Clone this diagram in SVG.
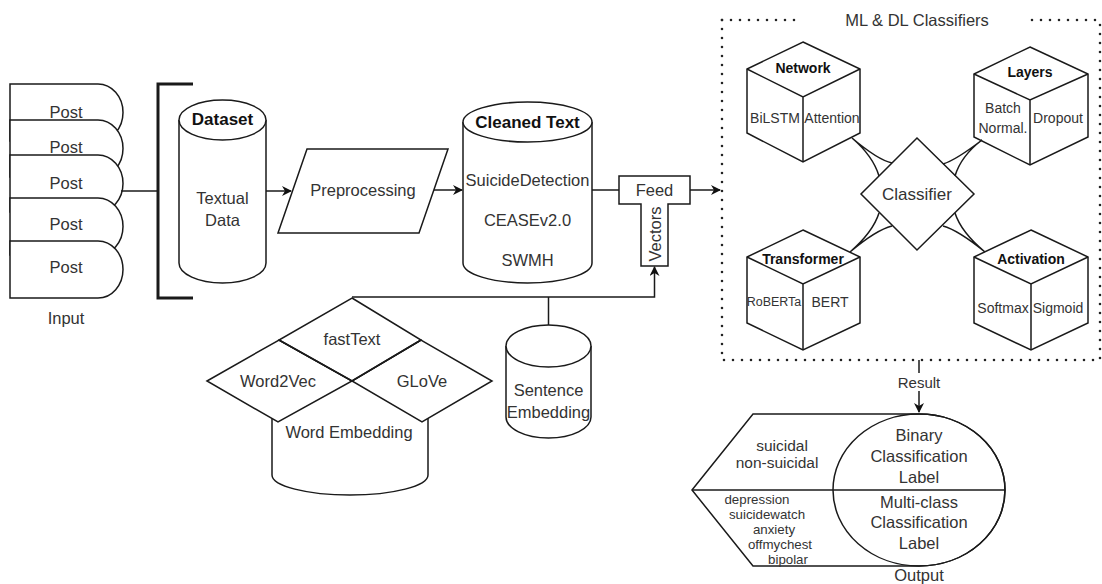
<svg xmlns="http://www.w3.org/2000/svg" width="1102" height="584" viewBox="0 0 1102 584">
<defs>
<style>
.s{fill:#fff;stroke:#1a1a1a;stroke-width:1.5}
.n{fill:none;stroke:#1a1a1a;stroke-width:1.5}
.t{font-family:"Liberation Sans",Arial,sans-serif;font-size:16.5px;fill:#333;text-anchor:middle;dominant-baseline:central}
.b{font-family:"Liberation Sans",Arial,sans-serif;font-size:17px;font-weight:bold;fill:#111;text-anchor:middle;dominant-baseline:central}
.cb{font-family:"Liberation Sans",Arial,sans-serif;font-size:14px;font-weight:bold;fill:#111;text-anchor:middle;dominant-baseline:central}
.c{font-family:"Liberation Sans",Arial,sans-serif;font-size:14px;fill:#333;text-anchor:middle;dominant-baseline:central}
.sm{font-family:"Liberation Sans",Arial,sans-serif;font-size:15.5px;fill:#333;text-anchor:middle;dominant-baseline:central}
.ls{font-family:"Liberation Sans",Arial,sans-serif;font-size:13.3px;fill:#333;text-anchor:middle;dominant-baseline:central}
.dot{fill:none;stroke:#222;stroke-width:2.6;stroke-linecap:round;stroke-dasharray:0 9}
</style>
<marker id="arr" viewBox="0 0 10 10" refX="9" refY="5" markerWidth="10" markerHeight="10" markerUnits="userSpaceOnUse" orient="auto">
<path d="M0,0 L10,5 L0,10 L3,5 Z" fill="#111"/>
</marker>
</defs>

<g id="posts">
<path class="s" d="M10,84 H98 A25,28.5 0 0 1 98,141 H10 Z"/>
<text class="t" x="66" y="112">Post</text>
<path class="s" d="M10,120 H98 A25,28.5 0 0 1 98,177 H10 Z"/>
<text class="t" x="66" y="147">Post</text>
<path class="s" d="M10,155 H98 A25,28.5 0 0 1 98,212 H10 Z"/>
<text class="t" x="66" y="183">Post</text>
<path class="s" d="M10,198 H98 A25,28.5 0 0 1 98,255 H10 Z"/>
<text class="t" x="66" y="224">Post</text>
<path class="s" d="M10,241 H98 A25,28.5 0 0 1 98,298 H10 Z"/>
<text class="t" x="66" y="267">Post</text>
<text class="t" x="66" y="318">Input</text>
</g>

<g id="bracket">
<path d="M193,84 H158 V298 H193" fill="none" stroke="#1a1a1a" stroke-width="3"/>
</g>

<g id="dataset">
<path class="s" d="M179,120 V263 A43.5,20 0 0 0 266,263 V120"/>
<ellipse class="s" cx="222.5" cy="120" rx="43.5" ry="20"/>
<text class="b" x="222.5" y="119">Dataset</text>
<text class="t" x="222.5" y="198">Textual</text>
<text class="t" x="222.5" y="220">Data</text>
</g>

<g id="preprocessing">
<path class="s" d="M307,149 H448 L419,233 H278 Z"/>
<text class="t" x="363" y="190">Preprocessing</text>
</g>

<g id="cleaned-text">
<path class="s" d="M463,122 V263 A64.5,20 0 0 0 592,263 V122"/>
<ellipse class="s" cx="527.5" cy="122" rx="64.5" ry="20"/>
<text class="b" x="527.5" y="122">Cleaned Text</text>
<text class="t" x="527.5" y="180">SuicideDetection</text>
<text class="t" x="527.5" y="220">CEASEv2.0</text>
<text class="t" x="527.5" y="260">SWMH</text>
</g>

<g id="feed-vectors">
<path class="s" d="M619,176 H690 V204 H668 V266 H641 V204 H619 Z"/>
<text class="t" x="654.5" y="190">Feed</text>
<text class="t" x="0" y="0" transform="translate(655,234) rotate(-90)">Vectors</text>
</g>

<g id="word-embedding">
<path class="s" d="M272,405 V475 A78,20 0 0 0 428,475 V405"/>
<path class="s" d="M207,381 L279,340 L352,381 L278,422 Z"/>
<path class="s" d="M352,381 L421,340 L492,381 L422,422 Z"/>
<path class="s" d="M352,298 L421,340 L352,381 L279,340 Z"/>
<path class="n" d="M279,340 L352,381 L421,340" stroke-width="2.4"/>
<text class="t" x="352" y="339">fastText</text>
<text class="t" x="278" y="381">Word2Vec</text>
<text class="t" x="422" y="381">GLoVe</text>
<text class="t" x="349" y="432">Word Embedding</text>
</g>

<g id="sentence-embedding">
<path class="s" d="M506,346 V417 A42.5,21 0 0 0 591,417 V346"/>
<ellipse class="s" cx="548.5" cy="346" rx="42.5" ry="21"/>
<text class="t" x="548.5" y="390">Sentence</text>
<text class="t" x="548.5" y="412">Embedding</text>
</g>

<g id="classifiers-box">
<path class="dot" d="M722,20 H802"/>
<path class="dot" d="M1032,20 H1100"/>
<path class="dot" d="M722,20 V360 H1100 V20"/>
<text class="t" x="917" y="20">ML &amp; DL Classifiers</text>
</g>

<g id="network">
<path class="s" d="M803,42 L860,69 L860,133 L803,162 L747,133 L747,69 Z"/>
<path class="n" d="M747,69 L803,97 L860,69 M803,97 V162"/>
<text class="cb" x="803" y="68">Network</text>
<text class="c" x="775" y="118">BiLSTM</text>
<text class="c" x="832" y="118">Attention</text>
</g>

<g id="layers">
<path class="s" d="M1030,47 L1088,74 L1088,137 L1030,165 L974,137 L974,74 Z"/>
<path class="n" d="M974,74 L1030,100 L1088,74 M1030,100 V165"/>
<text class="cb" x="1030" y="72">Layers</text>
<text class="c" x="1003" y="108">Batch</text>
<text class="c" x="1003" y="128">Normal.</text>
<text class="c" x="1058" y="118">Dropout</text>
</g>

<g id="transformer">
<path class="s" d="M803,230 L860,257 L860,323 L803,350 L747,323 L747,257 Z"/>
<path class="n" d="M747,257 L803,284 L860,257 M803,284 V350"/>
<text class="cb" x="803" y="259">Transformer</text>
<text class="c" x="774" y="302" style="font-size:12.5px">RoBERTa</text>
<text class="c" x="830" y="302">BERT</text>
</g>

<g id="activation">
<path class="s" d="M1031,230 L1088,257 L1088,323 L1031,350 L974,323 L974,257 Z"/>
<path class="n" d="M974,257 L1031,284 L1088,257 M1031,284 V350"/>
<text class="cb" x="1031" y="259">Activation</text>
<text class="c" x="1003" y="308">Softmax</text>
<text class="c" x="1058" y="308">Sigmoid</text>
</g>

<g id="classifier">
<path class="s" d="M917,138 L974,194 L917,250 L861,194 Z"/>
<text class="t" x="917" y="194" style="font-size:17px">Classifier</text>
</g>

<g id="output">
<path class="s" d="M692,490 L753,414 H919 A86,76 0 0 1 919,566 H753 Z"/>
<ellipse class="n" cx="919" cy="490" rx="86" ry="76"/>
<path class="n" d="M692,490 H1005" stroke="#444"/>
<text class="t" x="919" y="435">Binary</text>
<text class="t" x="919" y="456">Classification</text>
<text class="t" x="919" y="477">Label</text>
<text class="t" x="919" y="502">Multi-class</text>
<text class="t" x="919" y="522">Classification</text>
<text class="t" x="919" y="543">Label</text>
<text class="sm" x="782" y="445">suicidal</text>
<text class="sm" x="777" y="462">non-suicidal</text>
<text class="ls" x="757" y="499">depression</text>
<text class="ls" x="767" y="514">suicidewatch</text>
<text class="ls" x="774" y="529">anxiety</text>
<text class="ls" x="780" y="544">offmychest</text>
<text class="ls" x="788" y="559">bipolar</text>
<text class="t" x="919" y="575">Output</text>
</g>

<g id="connectors">
<path class="n" d="M121,191 H158"/>
<path class="n" d="M266,191 H291" marker-end="url(#arr)"/>
<path class="n" d="M434,190 H462" marker-end="url(#arr)"/>
<path class="n" d="M592,190 H619"/>
<path class="n" d="M690,190 H720" marker-end="url(#arr)"/>
<path class="n" d="M352,297 H654.5 V267" marker-end="url(#arr)"/>
<path class="n" d="M548.5,325 V297"/>
<path class="n" d="M852,138 Q878,160 892,163 M852,138 Q873,156 879,176"/>
<path class="n" d="M982,140 Q956,160 943,164 M982,140 Q961,156 955,176"/>
<path class="n" d="M850,252 Q873,232 879,213 M850,252 Q876,230 892,226"/>
<path class="n" d="M985,252 Q958,230 943,226 M985,252 Q961,232 955,213"/>
<path class="n" d="M919,360 V412" marker-end="url(#arr)"/>
<rect x="895" y="373" width="48" height="18" fill="#fff"/>
<text class="t" x="919" y="382" style="font-size:15px">Result</text>
</g>
</svg>
